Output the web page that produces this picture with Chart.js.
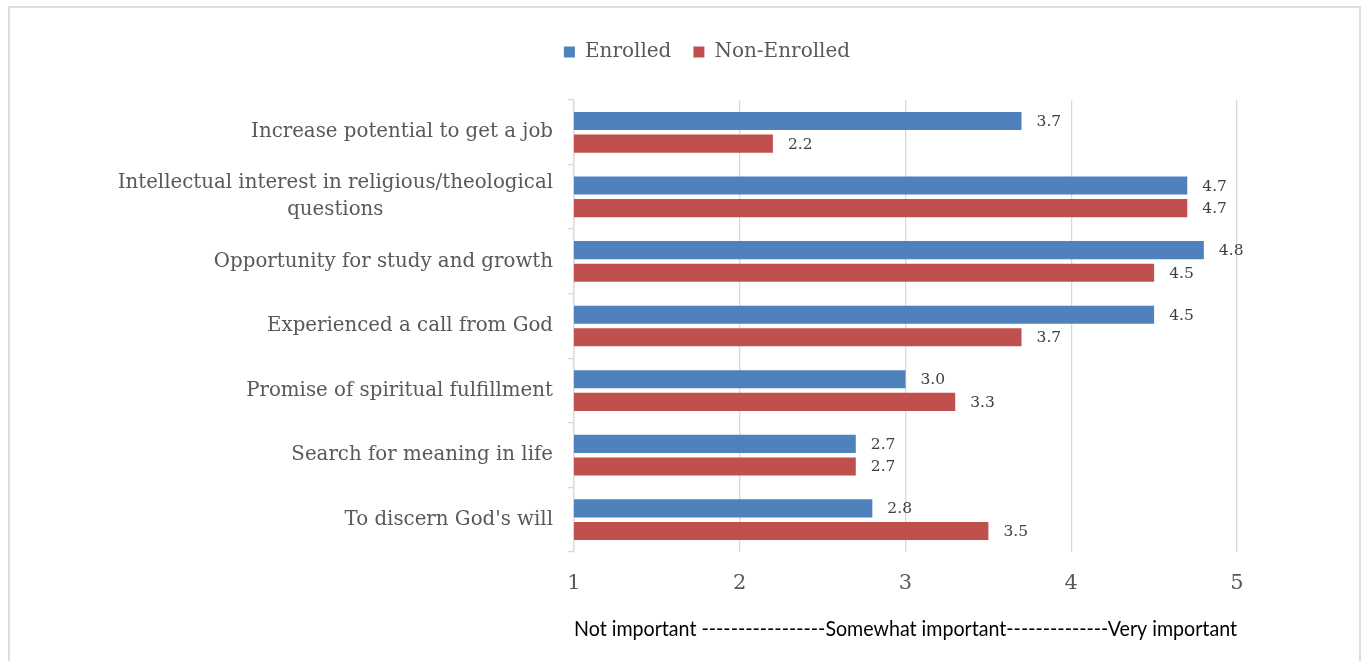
<!DOCTYPE html>
<html>
<head>
<meta charset="utf-8">
<title>Reasons for enrolling</title>
<script src="https://cdn.jsdelivr.net/npm/chart.js@4.4.1/dist/chart.umd.min.js"></script>
<style>
  html, body { margin: 0; padding: 0; background: #ffffff; }
  #wrap { position: relative; width: 1364px; height: 661px; overflow: hidden; }
  #frame { position: absolute; left: 8px; top: 6px; width: 1349px; height: 700px;
           border: 2px solid #dedede; border-bottom: none; }
  canvas { position: absolute; left: 0; top: 0; }
</style>
</head>
<body>
<div id="wrap">
  <div id="frame"></div>
  <canvas id="chart" width="1364" height="661"></canvas>
</div>
<script>
// Reasons, top to bottom (multi-line entries are arrays)
const categories = [
  'Increase potential to get a job',
  ['Intellectual interest in religious/theological', 'questions'],
  'Opportunity for study and growth',
  'Experienced a call from God',
  'Promise of spiritual fulfillment',
  'Search for meaning in life',
  "To discern God's will"
];
const seriesNames = ['Enrolled', 'Non-Enrolled'];
const enrolled    = [3.7, 4.7, 4.8, 4.5, 3.0, 2.7, 2.8];
const nonEnrolled = [2.2, 4.7, 4.5, 3.7, 3.3, 2.7, 3.5];
const xTicks = [1, 2, 3, 4, 5];
const scaleCaption = 'Not important -----------------Somewhat important--------------Very important';

const SERIF = '"DejaVu Serif", serif';
const GREY_TEXT = '#595959';

// Category names drawn to the left of the axis; extra lines are centred under the first
const categoryLabels = {
  id: 'categoryLabels',
  afterDraw(chart) {
    const yScale = chart.scales.y;
    const ctx = chart.ctx;
    const right = chart.chartArea.left - 21;
    const lineH = 27;
    ctx.save();
    ctx.font = '19.8px ' + SERIF;
    ctx.fillStyle = GREY_TEXT;
    ctx.textAlign = 'center';
    ctx.textBaseline = 'middle';
    categories.forEach((label, i) => {
      const lines = Array.isArray(label) ? label : [label];
      const widest = Math.max(...lines.map(l => ctx.measureText(l).width));
      const cx = right - widest / 2;
      const cy = yScale.getPixelForTick(i);
      lines.forEach((line, j) => {
        ctx.fillText(line, cx, cy + (j - (lines.length - 1) / 2) * lineH);
      });
    });
    ctx.restore();
  }
};

// Value printed just past the end of each bar
const valueLabels = {
  id: 'valueLabels',
  afterDatasetsDraw(chart) {
    const ctx = chart.ctx;
    ctx.save();
    ctx.font = '15.5px ' + SERIF;
    ctx.fillStyle = '#404040';
    ctx.textAlign = 'left';
    ctx.textBaseline = 'middle';
    chart.data.datasets.forEach((ds, di) => {
      chart.getDatasetMeta(di).data.forEach((bar, i) => {
        ctx.fillText(ds.data[i].toFixed(1), bar.x + 15, bar.y + 1);
      });
    });
    ctx.restore();
  }
};

new Chart(document.getElementById('chart'), {
  type: 'bar',
  data: {
    labels: categories,
    datasets: [
      { label: seriesNames[0], data: enrolled,    backgroundColor: '#4F81BD' },
      { label: seriesNames[1], data: nonEnrolled, backgroundColor: '#C0504D' }
    ]
  },
  options: {
    indexAxis: 'y',
    responsive: false,
    animation: false,
    devicePixelRatio: 1,
    barPercentage: 0.8,
    categoryPercentage: 0.7,
    layout: { padding: { left: 177, right: 127, top: 20, bottom: 0 } },
    plugins: {
      legend: {
        position: 'top',
        weight: 3000,
        labels: {
          font: { family: SERIF, size: 20 },
          color: GREY_TEXT,
          boxWidth: 11,
          boxHeight: 11,
          padding: 22
        }
      },
      // empty title acts as spacing between the legend and the plot
      title: {
        display: true,
        text: '',
        font: { size: 10 },
        padding: { top: 0, bottom: 16 }
      },
      tooltip: { enabled: false }
    },
    scales: {
      x: {
        min: xTicks[0],
        max: xTicks[xTicks.length - 1],
        afterBuildTicks(scale) { scale.ticks = xTicks.map(v => ({ value: v })); },
        ticks: { font: { family: SERIF, size: 21 }, color: GREY_TEXT, padding: 19 },
        grid: { color: '#d9d9d9', lineWidth: 1.3, drawTicks: false },
        border: { display: false },
        title: {
          display: true,
          text: scaleCaption,
          color: '#000000',
          font: { family: 'Lato, "Liberation Sans", sans-serif', size: 21 },
          padding: { top: 0, bottom: 19 }
        },
        afterFit(scale) { scale.height = 109; }
      },
      y: {
        ticks: { display: false },
        grid: {
          offset: true,
          drawOnChartArea: false,
          drawTicks: true,
          tickLength: 6,
          color: '#d9d9d9',
          lineWidth: 1.3
        },
        border: { display: true, color: '#d9d9d9', width: 1.3 },
        afterFit(scale) { scale.width = 397; }
      }
    }
  },
  plugins: [categoryLabels, valueLabels]
});
</script>
</body>
</html>
